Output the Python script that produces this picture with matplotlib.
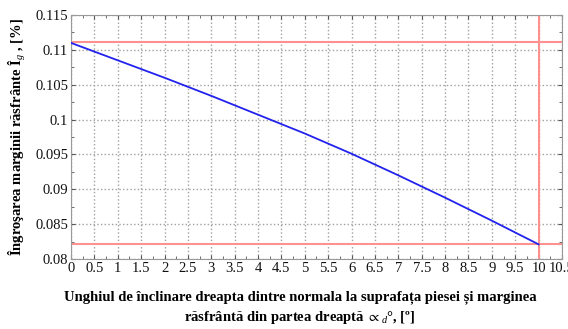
import numpy as np
import matplotlib.pyplot as plt
from matplotlib.ticker import MultipleLocator

# values
unghi = [0, 1, 2, 3, 4, 5, 6, 7, 8, 9, 10]
ingrosare = [0.1110, 0.1085, 0.1060, 0.1034, 0.1007, 0.0980, 0.0951,
             0.0920, 0.0888, 0.0855, 0.0821]
nivel_max = 0.1111
nivel_min = 0.0821
unghi_max = 10

plt.rcParams['font.family'] = ['Liberation Serif', 'DejaVu Serif']
plt.rcParams['mathtext.fontset'] = 'custom'
plt.rcParams['mathtext.rm'] = 'Liberation Serif'
plt.rcParams['mathtext.it'] = 'Liberation Serif:italic'
plt.rcParams['mathtext.bf'] = 'Liberation Serif:bold'
plt.rcParams['mathtext.fallback'] = 'stix'

fig = plt.figure(figsize=(5.68, 3.29), dpi=100)
ax = fig.add_axes([0.125, 0.2128, 0.8644, 0.7416])

ax.axhline(nivel_max, color='#ff9090', linewidth=1.5, zorder=2)
ax.axhline(nivel_min, color='#ff9090', linewidth=1.5, zorder=2)
ax.axvline(unghi_max, color='#ff9090', linewidth=1.5, zorder=2)
ax.axvline(0, color='#ff9090', linewidth=1.5, zorder=2)
ax.plot(unghi, ingrosare, color='#2222ee', linewidth=1.3, zorder=3)

ax.set_xlim(0, 10.5)
ax.set_ylim(0.08, 0.115)
ax.xaxis.set_minor_locator(MultipleLocator(0.25))
ax.yaxis.set_major_locator(MultipleLocator(0.005))
ax.yaxis.set_minor_locator(MultipleLocator(0.0025))
ax.set_xticks(np.arange(0, 10.51, 0.5))
ax.set_xticklabels(['%g' % v for v in np.arange(0, 10.51, 0.5)])
ax.set_yticks(np.arange(0.08, 0.1151, 0.005))
ax.set_yticklabels(['%g' % round(v, 3) for v in np.arange(0.08, 0.1151, 0.005)])

ax.tick_params(which='both', direction='in', top=True, right=True,
               labelsize=10.5, colors='#555555', labelcolor='#111111')
ax.tick_params(which='major', length=3, pad=2)
ax.tick_params(which='minor', length=2)
ax.grid(True, which='major', color='#a0a0a0', linestyle=':', linewidth=1)
for s in ax.spines.values():
    s.set_color('#999999')

ax.set_ylabel('Îngroşarea marginii răsfrânte Î$_{g}$ , [%]',
              fontsize=10.5, fontweight='bold', labelpad=5)
fig.text(0.528, 0.097,
         'Unghiul de înclinare dreapta dintre normala la suprafața piesei și marginea',
         ha='center', va='center', fontsize=10.5, fontweight='bold')
fig.text(0.528, 0.036, r'răsfrântă din partea dreaptă $\propto_{d}$°, [º]',
         ha='center', va='center', fontsize=10.5, fontweight='bold')

fig.savefig('out.png', dpi=100)
